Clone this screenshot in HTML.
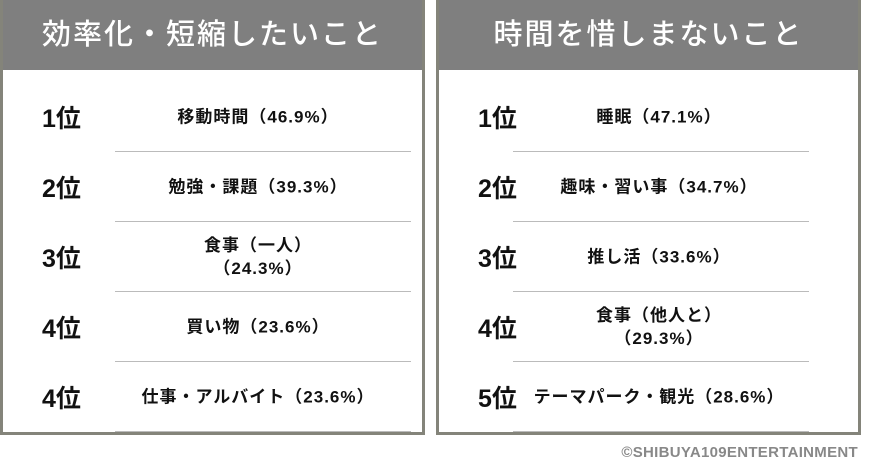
<!DOCTYPE html>
<html><head><meta charset="utf-8"><style>
body{margin:0;width:870px;height:475px;background:#fff;position:relative;overflow:hidden;font-family:"Liberation Sans","Noto Sans CJK JP",sans-serif}
.p{position:absolute;top:0;height:432px;border:3px solid #84847a;border-top:none;box-sizing:content-box;background:#fff}
.h{position:absolute;left:0;right:0;top:0;height:70px;background:#7f7f7f;color:#fff;font-size:29px;text-align:center;line-height:70px;font-weight:500;letter-spacing:2px}
.r{position:absolute;left:39px;font-size:25px;font-weight:bold;color:#111;transform:translateY(-50%)}
.t{position:absolute;font-size:17px;font-weight:bold;color:#111;text-align:center;transform:translateY(-50%);line-height:23px;width:360px;letter-spacing:1px}
.l{position:absolute;height:1px;background:#bbb;width:296px}
.c{position:absolute;right:12px;top:444px;font-size:15px;font-weight:bold;color:#888;letter-spacing:0.3px}
</style></head><body>
<div class="p" style="left:0;width:419px">
<div class="h">効率化・短縮したいこと</div>
<div class="r" style="top:117px">1位</div><div class="t" style="left:75px;top:117px">移動時間（46.9%）</div><div class="l" style="left:112px;top:151px"></div>
<div class="r" style="top:187px">2位</div><div class="t" style="left:75px;top:187px">勉強・課題（39.3%）</div><div class="l" style="left:112px;top:221px"></div>
<div class="r" style="top:257px">3位</div><div class="t" style="left:75px;top:257px">食事（一人）<br>（24.3%）</div><div class="l" style="left:112px;top:291px"></div>
<div class="r" style="top:327px">4位</div><div class="t" style="left:75px;top:327px">買い物（23.6%）</div><div class="l" style="left:112px;top:361px"></div>
<div class="r" style="top:397px">4位</div><div class="t" style="left:75px;top:397px">仕事・アルバイト（23.6%）</div><div class="l" style="left:112px;top:431px"></div>
</div>
<div class="p" style="left:436px;width:419px">
<div class="h">時間を惜しまないこと</div>
<div class="r" style="top:117px">1位</div><div class="t" style="left:40px;top:117px">睡眠（47.1%）</div><div class="l" style="left:74px;top:151px"></div>
<div class="r" style="top:187px">2位</div><div class="t" style="left:40px;top:187px">趣味・習い事（34.7%）</div><div class="l" style="left:74px;top:221px"></div>
<div class="r" style="top:257px">3位</div><div class="t" style="left:40px;top:257px">推し活（33.6%）</div><div class="l" style="left:74px;top:291px"></div>
<div class="r" style="top:327px">4位</div><div class="t" style="left:40px;top:327px">食事（他人と）<br>（29.3%）</div><div class="l" style="left:74px;top:361px"></div>
<div class="r" style="top:397px">5位</div><div class="t" style="left:40px;top:397px">テーマパーク・観光（28.6%）</div><div class="l" style="left:74px;top:431px"></div>
</div>
<div class="c">©SHIBUYA109ENTERTAINMENT</div>
</body></html>
